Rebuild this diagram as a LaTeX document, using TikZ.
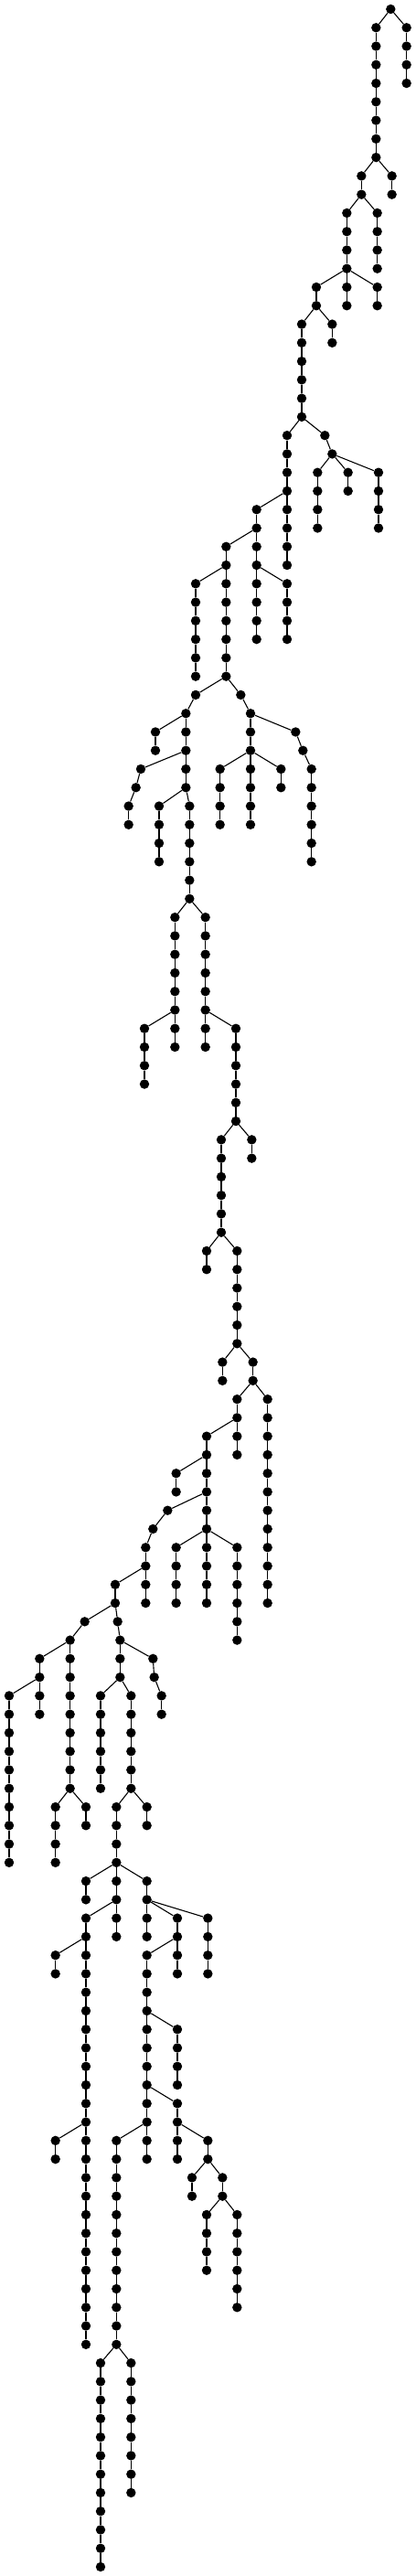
\documentclass[tikz,border=0pt]{standalone}
\begin{document}
\begin{tikzpicture}[x=0.333333pt, y=-20.268pt,
  dot/.style={circle, fill=black, draw=none, inner sep=0pt, minimum size=10.4pt},
  edge/.style={line width=1.1pt, black}]
\path[use as bounding box] (0,-0.4934) rectangle (1365,138.494);
\node[dot] (n1) at (1282,0) {};
\foreach \i/\x/\l/\p in {
2/1334/1/1, 3/1334/2/2, 4/1334/3/3, 5/1334/4/4,
6/1234/1/1, 7/1234/2/6, 8/1234/3/7, 9/1234/4/8, 10/1234/5/9, 11/1234/6/10, 12/1234/7/11, 13/1234/8/12,
14/1186/9/13, 15/1286/9/13, 16/1286/10/15, 17/1186/10/14,
18/1138/11/17, 19/1238/11/17, 20/1238/12/19, 21/1238/13/20, 22/1238/14/21,
23/1138/12/18, 24/1138/13/23, 25/1138/14/24,
26/1038/15/25, 27/1138/15/25, 28/1238/15/25, 29/1138/16/27, 30/1238/16/28,
31/1038/16/26, 32/990/17/31, 33/1090/17/31, 34/1090/18/33,
35/990/18/32, 36/990/19/35, 37/990/20/36, 38/990/21/37, 39/990/22/38,
40/942/23/39, 41/1066/23/39, 42/1090/24/41,
43/1042/25/42, 44/1142/25/42, 45/1242/25/42,
46/1042/26/43, 47/1042/27/46, 48/1042/28/47, 49/1142/26/44,
50/1242/26/45, 51/1242/27/50, 52/1242/28/51,
53/942/24/40, 54/942/25/53, 55/942/26/54,
56/842/27/55, 57/942/27/55, 58/942/28/57, 59/942/29/58, 60/942/30/59,
61/842/28/56, 62/742/29/61, 63/842/29/61, 64/842/30/63,
65/842/31/64, 66/942/31/64, 67/842/32/65, 68/842/33/67, 69/842/34/68,
70/942/32/66, 71/942/33/70, 72/942/34/71,
73/742/30/62, 74/642/31/73, 75/742/31/73,
76/642/32/74, 77/642/33/76, 78/642/34/77, 79/642/35/78, 80/642/36/79,
81/742/32/75, 82/742/33/81, 83/742/34/82, 84/742/35/83, 85/742/36/84,
86/642/37/85, 87/790/37/85, 88/610/38/86,
89/510/39/88, 90/610/39/88, 91/510/40/89, 92/610/40/90,
93/462/41/92, 94/610/41/92, 95/446/42/93, 96/422/43/95, 97/422/44/96,
98/610/42/94, 99/522/43/98, 100/622/43/98,
101/522/44/99, 102/522/45/101, 103/522/46/102,
104/622/44/100, 105/622/45/104, 106/622/46/105, 107/622/47/106, 108/622/48/107,
109/574/49/108, 110/674/49/108,
111/574/50/109, 112/574/51/111, 113/574/52/112, 114/574/53/113, 115/574/54/114,
116/474/55/115, 117/574/55/115, 118/574/56/117,
119/474/56/116, 120/474/57/119, 121/474/58/120,
122/674/50/110, 123/674/51/122, 124/674/52/123, 125/674/53/124, 126/674/54/125,
127/674/55/126, 128/774/55/126, 129/674/56/127,
130/774/56/128, 131/774/57/130, 132/774/58/131, 133/774/59/132, 134/774/60/133,
135/726/61/134, 136/826/61/134, 137/826/62/136,
138/726/62/135, 139/726/63/138, 140/726/64/139, 141/726/65/140, 142/726/66/141,
143/678/67/142, 144/778/67/142, 145/678/68/143,
146/778/68/144, 147/778/69/146, 148/778/70/147, 149/778/71/148, 150/778/72/149,
151/730/73/150, 152/830/73/150, 153/730/74/151, 154/830/74/152,
155/778/75/154, 156/878/75/154,
157/878/76/156, 158/878/77/157, 159/878/78/158, 160/878/79/159, 161/878/80/160, 162/878/81/161, 163/878/82/162, 164/878/83/163, 165/878/84/164, 166/878/85/165, 167/878/86/166,
168/778/76/155, 169/678/77/168, 170/778/77/168, 171/778/78/170,
172/678/78/169, 173/578/79/172, 174/678/79/172, 175/578/80/173,
176/678/80/174, 177/550/81/176, 178/678/81/176, 179/678/82/178,
180/578/83/179, 181/678/83/179, 182/778/83/179,
183/578/84/180, 184/578/85/183, 185/578/86/184,
186/678/84/181, 187/678/85/186, 188/678/86/187,
189/778/84/182, 190/778/85/189, 191/778/86/190, 192/778/87/191, 193/778/88/192,
194/502/82/177, 195/478/83/194, 196/478/84/195,
197/378/85/196, 198/478/85/196, 199/478/86/198,
200/378/86/197, 201/278/87/200, 202/386/87/200,
203/230/88/201, 204/130/89/203, 205/230/89/203,
206/130/90/204, 207/30/91/206, 208/130/91/206, 209/130/92/208,
210/30/92/207, 211/30/93/210, 212/30/94/211, 213/30/95/212, 214/30/96/213, 215/30/97/214, 216/30/98/215, 217/30/99/216, 218/30/100/217,
219/230/90/205, 220/230/91/219, 221/230/92/220, 222/230/93/221, 223/230/94/222, 224/230/95/223, 225/230/96/224,
226/182/97/225, 227/282/97/225, 228/182/98/226, 229/182/99/228, 230/182/100/229, 231/282/98/227,
232/394/88/202, 233/394/89/232, 234/502/89/232, 235/394/90/233,
236/330/91/235, 237/430/91/235,
238/330/92/236, 239/330/93/238, 240/330/94/239, 241/330/95/240, 242/330/96/241,
243/430/92/237, 244/430/93/243, 245/430/94/244, 246/430/95/245, 247/430/96/246,
248/382/97/247, 249/482/97/247, 250/482/98/249,
251/382/98/248, 252/382/99/251, 253/382/100/252,
254/282/101/253, 255/382/101/253, 256/482/101/253,
257/282/102/254, 258/382/102/255, 259/282/103/258, 260/382/103/258,
261/482/102/256, 262/482/103/261, 263/582/103/261, 264/682/103/261,
265/506/90/234, 266/530/91/265, 267/530/92/266,
268/282/104/259, 269/182/105/268, 270/282/105/268, 271/182/106/269,
272/282/106/270, 273/282/107/272, 274/282/108/273, 275/282/109/274, 276/282/110/275, 277/282/111/276, 278/282/112/277, 279/282/113/278, 280/282/114/279,
281/182/115/280, 282/282/115/280, 283/182/116/281,
284/282/116/282, 285/282/117/284, 286/282/118/285, 287/282/119/286, 288/282/120/287, 289/282/121/288, 290/282/122/289, 291/282/123/290, 292/282/124/291, 293/282/125/292, 294/282/126/293,
295/382/104/260, 296/482/104/262, 297/582/104/263,
298/482/105/297, 299/582/105/297, 300/582/106/299,
301/682/104/264, 302/682/105/301, 303/682/106/302,
304/482/106/298, 305/482/107/304, 306/482/108/305,
307/482/109/306, 308/582/109/306,
309/582/110/308, 310/582/111/309, 311/582/112/310,
312/482/110/307, 313/482/111/312, 314/482/112/313,
315/482/113/314, 316/582/113/314, 317/482/114/315,
318/382/115/317, 319/482/115/317, 320/582/114/316,
321/582/115/320, 322/682/115/320,
323/482/116/319, 324/582/116/321, 325/682/116/322,
326/630/117/325, 327/730/117/325, 328/630/118/326, 329/730/118/327,
330/678/119/329, 331/778/119/329,
332/678/120/330, 333/678/121/332, 334/678/122/333,
335/778/120/331, 336/778/121/335, 337/778/122/336, 338/778/123/337, 339/778/124/338,
340/382/116/318, 341/382/117/340, 342/382/118/341, 343/382/119/342, 344/382/120/343, 345/382/121/344, 346/382/122/345, 347/382/123/346, 348/382/124/347, 349/382/125/348, 350/382/126/349,
351/330/127/350, 352/430/127/350,
353/330/128/351, 354/330/129/353, 355/330/130/354, 356/330/131/355, 357/330/132/356, 358/330/133/357, 359/330/134/358, 360/330/135/359, 361/330/136/360, 362/330/137/361, 363/330/138/362,
364/430/128/352, 365/430/129/364, 366/430/130/365, 367/430/131/366, 368/430/132/367, 369/430/133/368, 370/430/134/369,
371/822/38/87, 372/822/39/371, 373/970/39/371, 374/822/40/372,
375/722/41/374, 376/822/41/374, 377/922/41/374,
378/722/42/375, 379/722/43/378, 380/722/44/379,
381/822/42/376, 382/822/43/381, 383/822/44/382,
384/922/42/377,
385/994/40/373, 386/1022/41/385, 387/1022/42/386, 388/1022/43/387, 389/1022/44/388, 390/1022/45/389, 391/1022/46/390}
{
  \node[dot] (n\i) at (\x,\l) {};
  \draw[edge] (n\p) -- (n\i);
}
\end{tikzpicture}
\end{document}
